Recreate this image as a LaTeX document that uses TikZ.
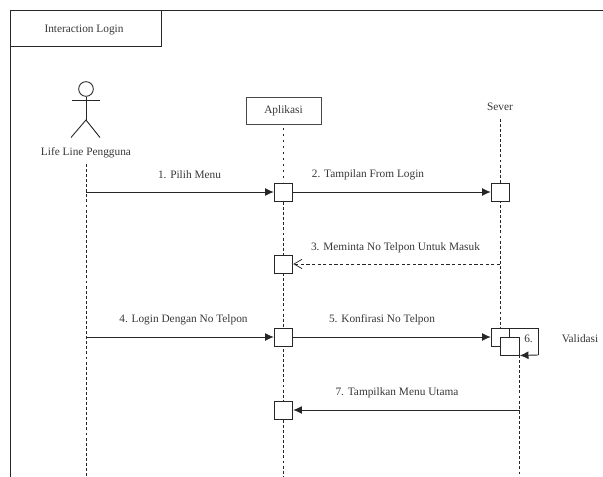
\documentclass[tikz,border=0pt]{standalone}
\usepackage{fontspec}
\setmainfont{Liberation Serif}
\usetikzlibrary{arrows.meta}
\definecolor{ink}{HTML}{262626}
\definecolor{txt}{HTML}{383838}
\tikzset{
  lbl/.style={font=\fontsize{8.5}{10}\selectfont,text=txt,inner sep=0pt,yshift=-1.2pt},
  framebox/.style={draw=ink!85,line width=0.7pt,fill=white,minimum width=56.25pt,minimum height=20.25pt,inner sep=0pt},
  act/.style={draw=ink,line width=0.7pt,fill=white,minimum width=14pt,minimum height=13.5pt,inner sep=0pt},
  life/.style={draw=ink,line width=0.65pt,dash pattern=on 2.2pt off 1.6pt},
  dotline/.style={draw=ink,line width=1.2pt,dash pattern=on 1.4pt off 3.1pt},
  msg/.style={draw=ink,line width=0.7pt,-{Latex[length=6.5pt,width=6pt]}},
  ret/.style={draw=ink,line width=0.55pt,dash pattern=on 2.4pt off 1.8pt,-{Straight Barb[length=6pt,width=7pt]}},
  limb/.style={draw=ink,line width=0.65pt}
}
\begin{document}
\begin{tikzpicture}[x=0.75pt,y=-0.75pt]
\useasboundingbox (0,0) rectangle (603,477);
\fill[white] (0,0) rectangle (603,477);
% frame
\coordinate (fbl) at (10,477);
\coordinate (ftl) at (10,10);
\coordinate (ftr) at (603,10);
\draw[ink,line width=0.7pt] (fbl) -- (ftl) -- (ftr);
\coordinate (tr) at (161,10);
\coordinate (tc) at (161,46.5);
\coordinate (tl) at (10,46.5);
\draw[ink,line width=0.7pt] (tr) -- (tc) -- (tl);
\node[lbl] (title) at (84,28) {Interaction Login};
% actor
\node[draw=ink,line width=0.65pt,circle,minimum size=11pt,inner sep=0pt] (head) at (86,89) {};
\coordinate (armL) at (72,100.5);
\coordinate (armR) at (100,100.5);
\coordinate (hip) at (86,120);
\coordinate (footL) at (71,137.5);
\coordinate (footR) at (100,137.5);
\draw[limb] (head.south) -- (hip);
\draw[limb] (armL) -- (armR);
\draw[limb] (footL) -- (hip) -- (footR);
\node[lbl] (pengguna) at (86,151) {Life Line Pengguna};
% headers
\node[framebox] (aplikasi) at (283.5,110.5) {\fontsize{8.5}{10}\selectfont\color{txt}Aplikasi};
\node[lbl] (sever) at (500,105) {Sever};
% lifeline ends
\coordinate (pTop) at (86,164);
\coordinate (pEnd) at (86,477);
\coordinate (aEnd) at (283.5,477);
\coordinate (sTop) at (500,119);
\coordinate (vEnd) at (519.5,477);
% lifelines
\draw[life] (pTop) -- (pEnd);
\coordinate (aDot) at (283.5,128);
\coordinate (aDotEnd) at (283.5,182);
\draw[dotline] (aDot) -- (aDotEnd);
\coordinate (aMid) at (283.5,192);
\draw[life] (aMid) -- (aEnd);
\coordinate (sBot) at (500,328);
\draw[life] (sTop) -- (sBot);
\coordinate (vTop) at (519.5,355);
\draw[life] (vTop) -- (vEnd);
% activations
\node[act] (a1) at (283.5,192) {};
\node[act] (s1) at (500.5,192) {};
\node[act] (a2) at (283.5,264) {};
\node[act] (a3) at (283.5,337) {};
\node[act] (s2) at (500.5,337) {};
\node[act] (s3) at (510,346) {};
\node[act] (a4) at (283.5,410) {};
% messages
\coordinate (m1) at (86,192);
\draw[msg] (m1) -- (a1.west);
\node[lbl] at (189.5,173) {1. Pilih Menu};
\draw[msg] (a1.east) -- (s1.west);
\node[lbl] at (368,173) {2. Tampilan From Login};
\coordinate (m3) at (500,264);
\draw[ret] (m3) -- (a2.east);
\node[lbl] at (395.5,246) {3. Meminta No Telpon Untuk Masuk};
\coordinate (m4) at (86,337);
\draw[msg] (m4) -- (a3.west);
\node[lbl] at (183.5,318) {4. Login Dengan No Telpon};
\draw[msg] (a3.east) -- (s2.west);
\node[lbl] at (382,318) {5. Konfirasi No Telpon};
% self loop
\coordinate (l1) at (510,328);
\coordinate (l2) at (538,328);
\coordinate (l3) at (538,355);
\draw[ink,line width=0.7pt] (l1) -- (l2) -- (l3);
\draw[msg] (l3) -- (s3.south east);
\node[lbl] at (528.5,337) {6.};
\node[lbl] at (580,337) {Validasi};
\coordinate (m7) at (519.5,410);
\draw[msg] (m7) -- (a4.east);
\node[lbl] at (397,391) {7. Tampilkan Menu Utama};
\end{tikzpicture}
\end{document}
